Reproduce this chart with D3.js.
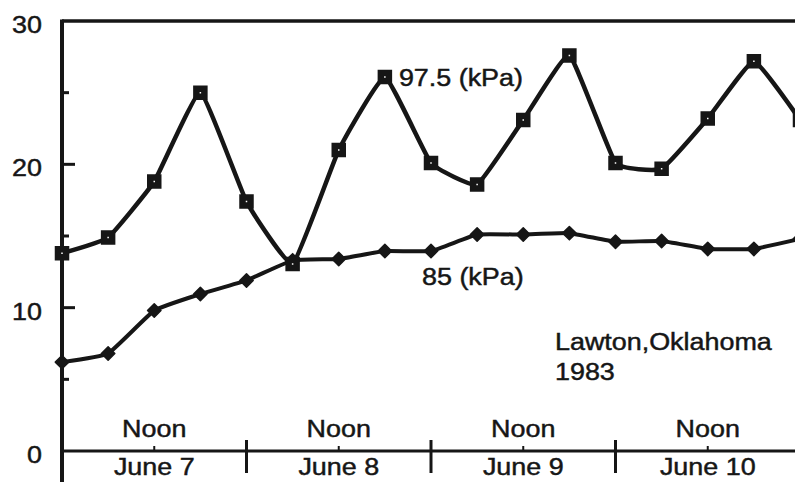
<!DOCTYPE html>
<html>
<head>
<meta charset="utf-8">
<script src="https://cdn.jsdelivr.net/npm/d3@7"></script>
<style>
  html, body { margin: 0; padding: 0; background: #fff; }
  svg { display: block; }
  text { font-family: "Liberation Sans", Arial, Helvetica, sans-serif; fill: #161616; stroke: #161616; stroke-width: 0.45px; }
</style>
</head>
<body>
<svg id="chart" width="795" height="482"></svg>
<script>
// Hours since midnight, June 7 (six-hourly readings)
const hours = [0, 6, 12, 18, 24, 30, 36, 42, 48, 54, 60, 66, 72, 78, 84, 90, 96];
// Series at the 97.5 kPa level
const series975 = [13.8, 14.9, 18.8, 25.0, 17.4, 13.05, 21.0, 26.1, 20.1, 18.6, 23.1, 27.6, 20.1, 19.7, 23.2, 27.2, 23.1];
// Series at the 85 kPa level
const series85 = [6.2, 6.8, 9.8, 10.95, 11.9, 13.3, 13.4, 13.95, 13.95, 15.1, 15.1, 15.2, 14.6, 14.65, 14.1, 14.1, 14.8];

const yTicks = [0, 10, 20, 30];
const yMinorTicks = [5, 15, 25];
const dayBoundaries = [24, 48, 72];
const noonHours = [12, 36, 60, 84];
const dayLabels = ["June 7", "June 8", "June 9", "June 10"];
const seriesNames = ["97.5 (kPa)", "85 (kPa)"];
const siteLines = ["Lawton,Oklahoma", "1983"];

const W = 795, H = 482;
const ink = "#161616";
const fontSize = 23;
const stretch = 1.17;

const svg = d3.select("#chart");
svg.append("rect").attr("width", W).attr("height", H).attr("fill", "#fff");

const x = d3.scaleLinear().domain([0, 96]).range([62, 800]);
const y = d3.scaleLinear().domain([0, 30]).range([451, 21]);

// Horizontally stretched label helper
function label(px, py, str, anchor) {
  const g = svg.append("g").attr("transform", `translate(${px},${py}) scale(${stretch},1)`);
  g.append("text")
    .attr("text-anchor", anchor || "start")
    .attr("font-size", fontSize)
    .text(str);
  return g;
}

const x0 = x(0);
const yBase = y(0);

// Frame: left axis (runs past the baseline), top rule, baseline
svg.append("line")
  .attr("x1", x0).attr("x2", x0).attr("y1", y(30) - 1.5).attr("y2", H)
  .attr("stroke", ink).attr("stroke-width", 4);
svg.append("line")
  .attr("x1", x0).attr("x2", W).attr("y1", y(30)).attr("y2", y(30))
  .attr("stroke", ink).attr("stroke-width", 3.5);
svg.append("line")
  .attr("x1", x0).attr("x2", W).attr("y1", yBase).attr("y2", yBase)
  .attr("stroke", ink).attr("stroke-width", 3);

// Y ticks point inward
svg.selectAll(".ymaj").data(yTicks.filter(v => v > 0 && v < 30)).enter().append("line")
  .attr("x1", x0).attr("x2", x0 + 13)
  .attr("y1", d => y(d)).attr("y2", d => y(d))
  .attr("stroke", ink).attr("stroke-width", 3);
svg.selectAll(".ymin").data(yMinorTicks).enter().append("line")
  .attr("x1", x0).attr("x2", x0 + 7)
  .attr("y1", d => y(d)).attr("y2", d => y(d))
  .attr("stroke", ink).attr("stroke-width", 3);

yTicks.forEach(v => label(x0 - 20, y(v) + 12, String(v), "end"));

// Day boundaries cross the baseline
svg.selectAll(".day").data(dayBoundaries).enter().append("line")
  .attr("x1", d => x(d)).attr("x2", d => x(d))
  .attr("y1", yBase - 11).attr("y2", yBase + 22)
  .attr("stroke", ink).attr("stroke-width", 3);

// Noon marks
svg.selectAll(".noon").data(noonHours).enter().append("line")
  .attr("x1", d => x(d)).attr("x2", d => x(d))
  .attr("y1", yBase - 5).attr("y2", yBase)
  .attr("stroke", ink).attr("stroke-width", 2);

noonHours.forEach((h, i) => {
  label(x(h), yBase - 14, "Noon", "middle");
  label(x(h), yBase + 24, dayLabels[i], "middle");
});

// Lines: gently smoothed through each reading
const curve = d3.curveCardinal.tension(0.65);
const line975 = d3.line().x((d, i) => x(hours[i])).y(d => y(d)).curve(curve);
const line85 = d3.line().x((d, i) => x(hours[i])).y(d => y(d)).curve(curve);

svg.append("path").datum(series85).attr("d", line85)
  .attr("fill", "none").attr("stroke", ink).attr("stroke-width", 4)
  .attr("stroke-linejoin", "round");

const diamond = d3.symbol().type(d3.symbolSquare).size(90)();
svg.selectAll(".m85").data(series85).enter().append("path")
  .attr("d", diamond)
  .attr("transform", (d, i) => `translate(${x(hours[i])},${y(d)}) rotate(45)`)
  .attr("fill", ink).attr("stroke", ink).attr("stroke-width", 1.5)
  .attr("stroke-linejoin", "round");

svg.append("path").datum(series975).attr("d", line975)
  .attr("fill", "none").attr("stroke", ink).attr("stroke-width", 4.5)
  .attr("stroke-linejoin", "round");

const square = d3.symbol().type(d3.symbolSquare).size(64)();
svg.selectAll(".m975").data(series975).enter().append("path")
  .attr("d", square)
  .attr("transform", (d, i) => `translate(${x(hours[i])},${y(d)})`)
  .attr("fill", "#fff").attr("stroke", ink).attr("stroke-width", 6.5);

// Series labels
label(x(hours[7]) + 14, y(series975[7]) + 9, seriesNames[0], "start");
label(x(hours[8]) - 9, y(series85[8]) + 34, seriesNames[1], "start");

// Site annotation
label(555, 350, siteLines[0], "start");
label(555, 380, siteLines[1], "start");
</script>
</body>
</html>
